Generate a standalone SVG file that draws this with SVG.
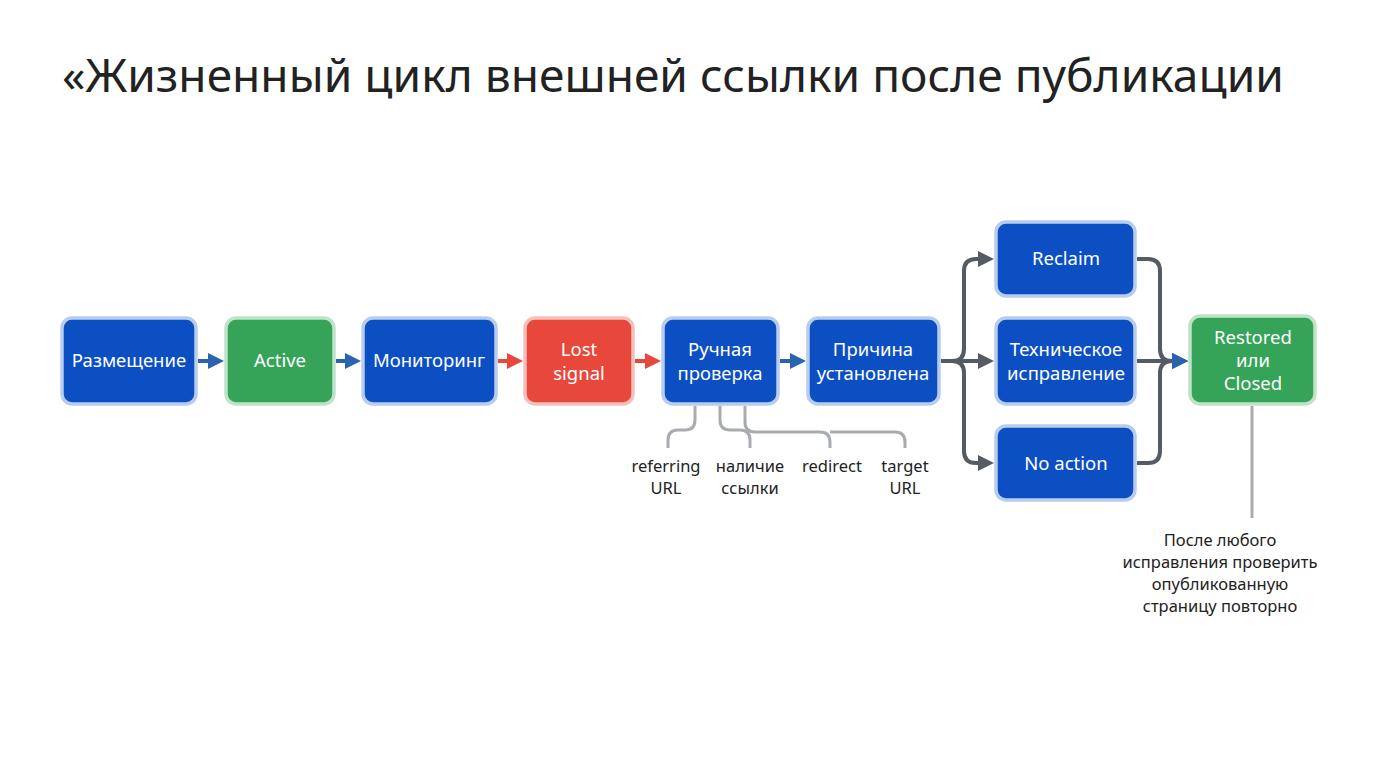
<svg xmlns="http://www.w3.org/2000/svg" width="1376" height="768" viewBox="0 0 1376 768">
<style>
.n rect{stroke-width:3.5}
.b rect{fill:#0c4fc2;stroke:#b8cdee}
.g rect{fill:#36a458;stroke:#bfe2c8}
.r rect{fill:#e8473b;stroke:#f3c0bb}
.n text{fill:#fff;font-family:"Noto Sans","DejaVu Sans",sans-serif;font-size:18.5px;text-anchor:middle}
.t{font-family:"Noto Sans","DejaVu Sans",sans-serif;fill:#222}
.sm{font-size:16.5px;text-anchor:middle}
.ab{stroke:#2a63b0;stroke-width:4;fill:none}
.ar{stroke:#e8473b;stroke-width:4;fill:none}
.ag{stroke:#555b63;stroke-width:4;fill:none}
.lg{stroke:#a8acb0;stroke-width:3;fill:none}
</style>
<defs>
<marker id="mb" markerWidth="4" markerHeight="4" refX="2.5" refY="2" orient="auto"><path d="M0,0L4,2L0,4z" fill="#2a63b0"/></marker>
<marker id="mr" markerWidth="4" markerHeight="4" refX="2.5" refY="2" orient="auto"><path d="M0,0L4,2L0,4z" fill="#e8473b"/></marker>
<marker id="mg" markerWidth="4" markerHeight="4" refX="2.5" refY="2" orient="auto"><path d="M0,0L4,2L0,4z" fill="#555b63"/></marker>
</defs>
<rect width="1376" height="768" fill="#fff"/>
<text class="t" x="62" y="92" font-size="46" textLength="1222" lengthAdjust="spacingAndGlyphs">«Жизненный цикл внешней ссылки после публикации</text>
<g id="connectors">
<path class="ab" d="M198,361H218" marker-end="url(#mb)"/>
<path class="ab" d="M336,361H355" marker-end="url(#mb)"/>
<path class="ar" d="M498,361H517" marker-end="url(#mr)"/>
<path class="ar" d="M635,361H655" marker-end="url(#mr)"/>
<path class="ab" d="M780,361H800" marker-end="url(#mb)"/>
<path class="ag" d="M941,361H988" marker-end="url(#mg)"/>
<path class="ag" d="M941,361H952q12,0 12,-12V271q0,-12 12,-12H988" marker-end="url(#mg)"/>
<path class="ag" d="M941,361H952q12,0 12,12V451q0,12 12,12H988" marker-end="url(#mg)"/>
<path class="ag" d="M1137,361H1182" marker-end="url(#mg)"/>
<path class="ag" d="M1137,259H1148q12,0 12,12V349q0,12 12,12H1182" marker-end="url(#mb)"/>
<path class="ag" d="M1137,463H1148q12,0 12,-12V373q0,-12 12,-12H1182" marker-end="url(#mb)"/>
<path class="lg" d="M695,406V420q0,10 -10,10H678q-10,0 -10,10V448"/>
<path class="lg" d="M720,406V420q0,10 10,10H740q10,0 10,10V448"/>
<path class="lg" d="M745,406V422q0,10 10,10H820q10,0 10,10V448"/>
<path class="lg" d="M830,432H895q10,0 10,10V448"/>
<path class="lg" d="M1252,406V518"/>
</g>
<g id="n1" class="n b"><rect x="62" y="318" width="134" height="86" rx="10"/><text x="129" y="367">Размещение</text></g>
<g id="n2" class="n g"><rect x="226" y="318" width="108" height="86" rx="10"/><text x="280" y="367">Active</text></g>
<g id="n3" class="n b"><rect x="363" y="318" width="133" height="86" rx="10"/><text x="429" y="367">Мониторинг</text></g>
<g id="n4" class="n r"><rect x="525" y="318" width="108" height="86" rx="10"/><text x="579" y="356">Lost</text><text x="579" y="380">signal</text></g>
<g id="n5" class="n b"><rect x="663" y="318" width="115" height="86" rx="10"/><text x="720" y="356">Ручная</text><text x="720" y="380">проверка</text></g>
<g id="n6" class="n b"><rect x="808" y="318" width="131" height="86" rx="10"/><text x="873" y="356">Причина</text><text x="873" y="380">установлена</text></g>
<g id="n7" class="n b"><rect x="996" y="222" width="139" height="74" rx="10"/><text x="1066" y="265">Reclaim</text></g>
<g id="n8" class="n b"><rect x="996" y="318" width="139" height="86" rx="10"/><text x="1066" y="356">Техническое</text><text x="1066" y="380">исправление</text></g>
<g id="n9" class="n b"><rect x="996" y="426" width="139" height="74" rx="10"/><text x="1066" y="470">No action</text></g>
<g id="n10" class="n g"><rect x="1190" y="316" width="125" height="88" rx="10"/><text x="1253" y="344">Restored</text><text x="1253" y="367">или</text><text x="1253" y="390">Closed</text></g>
<g class="t sm">
<text x="666" y="472">referring</text><text x="666" y="494">URL</text>
<text x="750" y="472">наличие</text><text x="750" y="494">ссылки</text>
<text x="832" y="472">redirect</text>
<text x="905" y="472">target</text><text x="905" y="494">URL</text>
<text x="1220" y="546">После любого</text>
<text x="1220" y="568">исправления проверить</text>
<text x="1220" y="590">опубликованную</text>
<text x="1220" y="612">страницу повторно</text>
</g>
</svg>
